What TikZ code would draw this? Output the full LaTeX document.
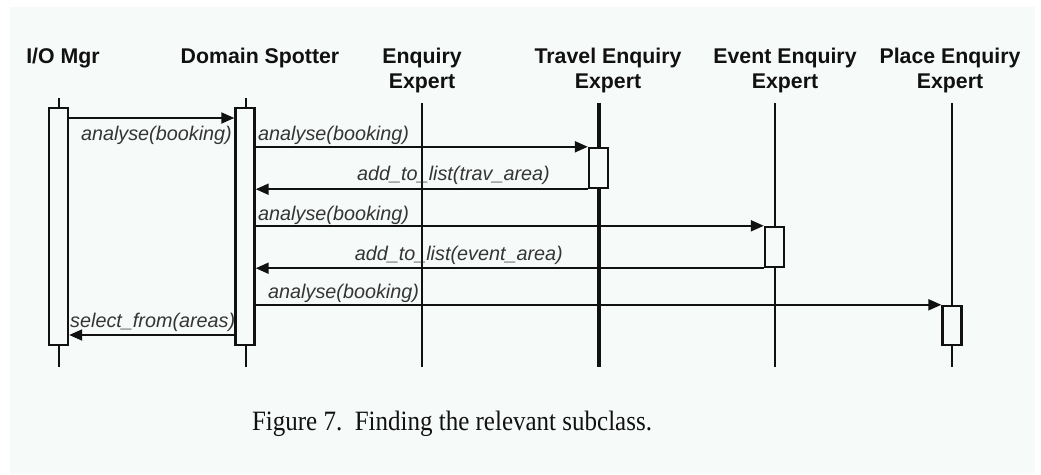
\documentclass[tikz,border=0pt]{standalone}
\usepackage{fontspec}
\setmainfont{Liberation Serif}
\setsansfont{Liberation Sans}
\usetikzlibrary{arrows.meta}
\definecolor{paper}{HTML}{F6FAF8}
\definecolor{ink}{HTML}{111111}
\begin{document}
\begin{tikzpicture}[x=1pt,y=-1pt,
  header/.style={font=\sffamily\bfseries\fontsize{21.3}{25}\selectfont, text=ink, inner sep=0pt, align=center},
  msglabel/.style={font=\sffamily\itshape\fontsize{19.8}{22}\selectfont, text=ink!85, inner sep=0pt},
  lifeline/.style={draw=ink, line width=2.4pt},
  activation/.style={draw=ink, fill=paper, line width=2.4pt, rectangle, inner sep=0pt, minimum width=19pt},
  msg/.style={draw=ink, line width=2pt, -{Triangle[length=13pt,width=11pt]}},
]
\useasboundingbox (0,0) rectangle (1041,474);
\fill[white] (0,0) rectangle (1041,474);
\fill[paper] (10,7) rectangle (1035,474);

% participant headings (base anchor sits on the last line)
\node[header, anchor=base] (hIO) at (63,63) {I/O Mgr};
\node[header, anchor=base] (hDS) at (260,63) {Domain Spotter};
\node[header, anchor=base] (hEE) at (422,88) {Enquiry\\Expert};
\node[header, anchor=base] (hTE) at (608,88) {Travel Enquiry\\Expert};
\node[header, anchor=base] (hVE) at (785,88) {Event Enquiry\\Expert};
\node[header, anchor=base] (hPE) at (950,88) {Place Enquiry\\Expert};

% lifeline end points
\coordinate (ioTop) at (59,98);   \coordinate (ioBot) at (59,367);
\coordinate (dsTop) at (246,98);  \coordinate (dsBot) at (246,367);
\coordinate (eeTop) at (422,103); \coordinate (eeBot) at (422,367);
\coordinate (teTop) at (599,103); \coordinate (teBot) at (599,367);
\coordinate (veTop) at (775,103); \coordinate (veBot) at (775,367);
\coordinate (peTop) at (952,103); \coordinate (peBot) at (952,367);

\draw[lifeline] (ioTop) -- (ioBot);
\draw[lifeline] (dsTop) -- (dsBot);
\draw[lifeline] (eeTop) -- (eeBot);
\draw[lifeline, line width=4pt] (teTop) -- (teBot);
\draw[lifeline] (veTop) -- (veBot);
\draw[lifeline] (peTop) -- (peBot);

% activation bars
\node[activation, minimum height=237pt] (io) at (58.5,226.5) {};
\node[activation, minimum height=237pt] (ds) at (245,226.5) {};
\node[activation, minimum height=40pt] (te) at (598.5,168) {};
\node[activation, minimum height=40pt] (ve) at (774.5,247) {};
\node[activation, minimum height=39pt] (pe) at (952,325.5) {};

% messages
\draw[msg] (io.east |- 0,118) -- (ds.west |- 0,118);
\node[msglabel, anchor=base east] (m1) at (232,140) {analyse(booking)};

\draw[msg] (ds.east |- te.north) -- (te.north west);
\node[msglabel, anchor=base west] (m2) at (258,140) {analyse(booking)};

\draw[msg] (te.south west) -- (ds.east |- te.south);
\node[msglabel, anchor=base east] (m3) at (550,180) {add\_to\_list(trav\_area)};

\draw[msg] (ds.east |- ve.north) -- (ve.north west);
\node[msglabel, anchor=base west] (m4) at (258,220) {analyse(booking)};

\draw[msg] (ve.south west) -- (ds.east |- ve.south);
\node[msglabel, anchor=base east] (m5) at (563,260) {add\_to\_list(event\_area)};

\draw[msg] (ds.east |- pe.north) -- (pe.north west);
\node[msglabel, anchor=base west] (m6) at (268,298) {analyse(booking)};

\draw[msg] (ds.west |- 0,335) -- (io.east |- 0,335);
\node[msglabel, anchor=base west] (m7) at (70,327) {select\_from(areas)};

% caption, set a little taller than wide
\node[font=\rmfamily\fontsize{25}{28}\selectfont, text=ink, anchor=base, inner sep=0pt] (cap) at (452,430)
  {\scalebox{1}[1.12]{Figure 7.\hspace{0.5em}Finding the relevant subclass.}};
\end{tikzpicture}
\end{document}
